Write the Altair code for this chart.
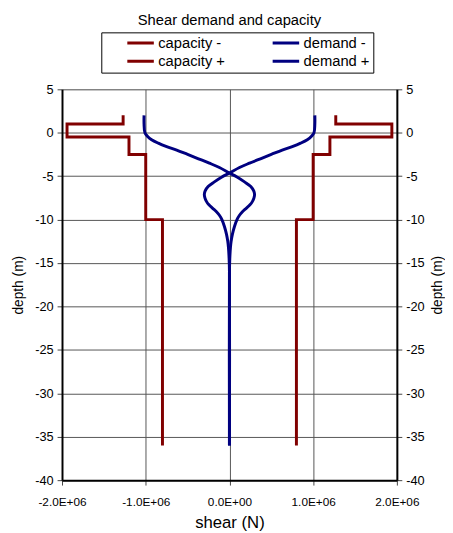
import altair as alt
import pandas as pd

FONT = "Liberation Sans"

# ---- data ----
capacity_depth = [2, 1, 1, -0.5, -0.5, -2.5, -2.5, -10, -10, -36]
capacity_minus = [-1.27e6, -1.27e6, -1.94e6, -1.94e6, -1.2e6, -1.2e6, -1.0e6, -1.0e6, -0.8e6, -0.8e6]
capacity_plus = [1.27e6, 1.27e6, 1.94e6, 1.94e6, 1.2e6, 1.2e6, 1.0e6, 1.0e6, 0.8e6, 0.8e6]

demand_depth = [2.0, 1.0, 0.0, -0.4, -0.8, -1.2, -1.6, -2.0, -2.5, -3.0, -3.5, -4.0,
                -4.64, -5.1, -5.66, -6.2, -6.7, -7.1, -7.5, -7.9, -8.3, -8.7, -9.1,
                -9.5, -10.0, -10.8, -11.7, -12.5, -13.2, -14.5, -16.0, -36.0]
demand_minus = [-1.02e6, -1.02e6, -1.01e6, -0.98e6, -0.93e6, -0.85e6, -0.75e6, -0.63e6,
                -0.50e6, -0.37e6, -0.24e6, -0.12e6,
                0.0, 0.09e6, 0.18e6, 0.255e6, 0.29e6, 0.30e6, 0.293e6, 0.275e6, 0.245e6,
                0.20e6, 0.155e6, 0.12e6, 0.09e6, 0.06e6, 0.035e6, 0.02e6, 0.012e6,
                0.004e6, 0.0, 0.0]
demand_plus = [1.02e6, 1.02e6, 1.01e6, 0.98e6, 0.93e6, 0.85e6, 0.75e6, 0.63e6,
               0.50e6, 0.37e6, 0.24e6, 0.12e6,
               0.0, -0.09e6, -0.18e6, -0.255e6, -0.29e6, -0.30e6, -0.293e6, -0.275e6, -0.245e6,
               -0.20e6, -0.155e6, -0.12e6, -0.09e6, -0.06e6, -0.035e6, -0.02e6, -0.012e6,
               -0.004e6, 0.0, 0.0]

series_names = ["capacity -", "capacity +", "demand -", "demand +"]
series_colors = ["#800000", "#800000", "#000080", "#000080"]
x_ticks = [-2e6, -1e6, 0, 1e6, 2e6]
y_ticks = [5, 0, -5, -10, -15, -20, -25, -30, -35, -40]

rows_cap = []
for name, xs in (("capacity -", capacity_minus), ("capacity +", capacity_plus)):
    for i, (xv, yv) in enumerate(zip(xs, capacity_depth)):
        rows_cap.append({"series": name, "i": i, "shear": xv, "depth": yv})
rows_dem = []
for name, xs in (("demand -", demand_minus), ("demand +", demand_plus)):
    for i, (xv, yv) in enumerate(zip(xs, demand_depth)):
        rows_dem.append({"series": name, "i": i, "shear": xv, "depth": yv})
cap_df = pd.DataFrame(rows_cap)
dem_df = pd.DataFrame(rows_dem)

x_label = ("datum.value == 0 ? '0.0E+00' : (datum.value < 0 ? '-' : '') + "
           "toString(abs(datum.value) / 1000000) + '.0E+06'")
y_label = "(datum.value < 0 ? '-' : '') + toString(abs(datum.value))"

GRID = "#555555"

x_enc = alt.X("shear:Q",
              scale=alt.Scale(domain=[-2e6, 2e6], nice=False, zero=False),
              axis=alt.Axis(values=x_ticks, labelExpr=x_label, title="shear (N)",
                            labelFontSize=12, titleFontSize=17, labelPadding=12,
                            titlePadding=7, grid=True, gridColor=GRID,
                            domainColor="black", domainWidth=2, tickColor="#444444",
                            tickSize=5, labelFont=FONT, titleFont=FONT,
                            titleFontWeight="normal", labelColor="black",
                            titleColor="black", labelFlush=False))

y_scale = alt.Scale(domain=[-40, 5], nice=False, zero=False)
y_left = alt.Y("depth:Q", scale=y_scale,
               axis=alt.Axis(orient="left", values=y_ticks, labelExpr=y_label,
                             title="depth (m)", labelFontSize=13, titleFontSize=14,
                             labelPadding=4, titlePadding=9, grid=True,
                             gridColor=GRID, domainColor="black", domainWidth=2,
                             tickColor="#444444", tickSize=5, labelFont=FONT,
                             titleFont=FONT, titleFontWeight="normal",
                             labelColor="black", titleColor="black", labelFlush=False))
y_right = alt.Y("depth:Q", scale=y_scale,
                axis=alt.Axis(orient="right", values=y_ticks, labelExpr=y_label,
                              title="depth (m)", labelFontSize=13, titleFontSize=14,
                              labelPadding=4, titlePadding=7, grid=False,
                              titleAngle=270, titleBaseline="top",
                              domainColor="black", domainWidth=2,
                              tickColor="#444444", tickSize=5, labelFont=FONT,
                              titleFont=FONT, titleFontWeight="normal",
                              labelColor="black", titleColor="black", labelFlush=False))

color_enc = alt.Color("series:N",
                      scale=alt.Scale(domain=series_names, range=series_colors),
                      legend=alt.Legend(orient="none", legendX=40, legendY=-58,
                                        columns=2, title=None, symbolType="stroke",
                                        symbolSize=729, symbolStrokeWidth=3,
                                        labelFontSize=15, labelFont=FONT,
                                        labelColor="black", labelOffset=3,
                                        symbolOffset=22, columnPadding=25,
                                        rowPadding=3, gridAlign="all", clipHeight=15,
                                        padding=3, strokeColor="black",
                                        fillColor="white", labelLimit=200))

cap = alt.Chart(cap_df).mark_line(strokeWidth=3, strokeJoin="miter", strokeCap="butt").encode(
    x=x_enc, y=y_left, color=color_enc, detail="series:N", order=alt.Order("i:Q"))
dem = alt.Chart(dem_df).mark_line(strokeWidth=3, interpolate="catmull-rom").encode(
    x=x_enc, y=y_right, color=color_enc, detail="series:N", order=alt.Order("i:Q"))

chart = alt.layer(cap, dem).resolve_scale(y="shared").resolve_axis(y="independent").properties(
    width=341, height=398,
    title=alt.TitleParams("Shear demand and capacity", font=FONT, fontSize=15,
                          fontWeight="normal", color="black", anchor="middle"),
    autosize=alt.AutoSizeParams(type="none"),
    padding={"left": 55, "top": 78, "right": 49, "bottom": 49},
).configure_view(stroke=GRID, strokeWidth=1).configure(background="white")

chart.save("out.html", embed_options={"renderer": "svg", "actions": False})
